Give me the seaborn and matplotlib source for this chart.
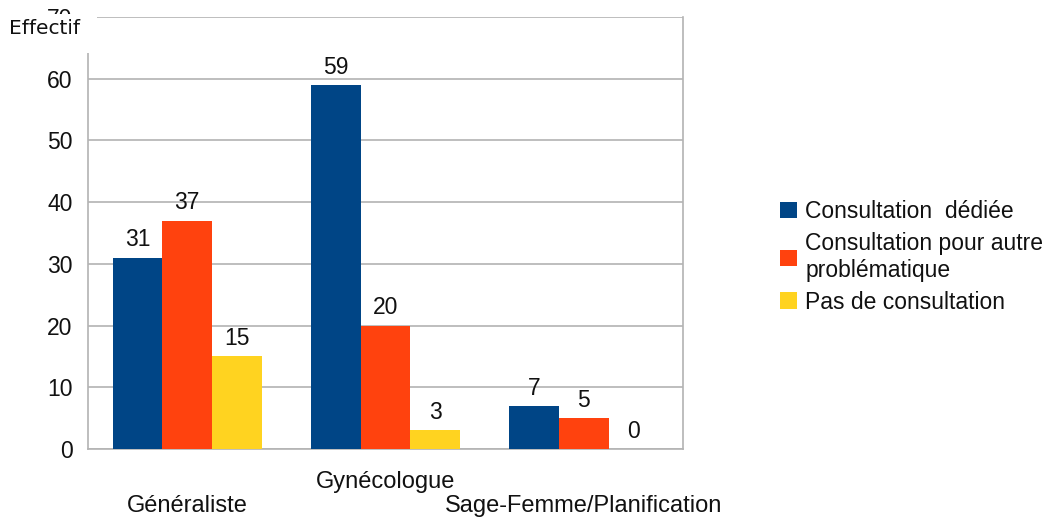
import pandas as pd
import numpy as np
import matplotlib.pyplot as plt
import matplotlib.transforms as mtransforms
from matplotlib.patches import Rectangle
import seaborn as sns

specialites = ["Généraliste", "Gynécologue", "Sage-Femme/Planification"]
consultations = ["Consultation  dédiée", "Consultation pour autre\nproblématique", "Pas de consultation"]
dediee = [31, 59, 7]
autre = [37, 20, 5]
aucune = [15, 3, 0]
couleurs = ["#004586", "#ff420e", "#ffd320"]

sns.set_theme(style="white")
plt.rcParams["font.family"] = ["Liberation Sans", "DejaVu Sans"]

df = pd.DataFrame({
    "Spécialité": specialites * 3,
    "Consultation": np.repeat(consultations, 3),
    "Effectif": dediee + autre + aucune,
})

fig = plt.figure(figsize=(10.55, 5.19), dpi=100)
ax = fig.add_axes([0.0834, 0.1349, 0.5640, 0.8323])

sns.barplot(data=df, x="Spécialité", y="Effectif", hue="Consultation",
            hue_order=consultations, order=specialites, palette=couleurs,
            saturation=1, width=0.75, gap=0, linewidth=0, ax=ax, zorder=3)

for cont in ax.containers:
    ax.bar_label(cont, fmt="%d", padding=4.5, fontsize=16.5, color="#111111")

ax.set_ylim(0, 70)
ax.set_xlim(-0.5, 2.5)
ax.set_yticks(range(0, 71, 10))
ax.yaxis.grid(True, color="#b3b3b3", linewidth=1.2, zorder=0)
ax.tick_params(axis="y", length=7, color="#b3b3b3", width=1.2, labelsize=16.5, pad=4,
               labelcolor="#111111")
ax.tick_params(axis="x", which="major", length=0, labelsize=17, pad=16,
               labelcolor="#111111")
ax.set_xticks([-0.5, 0.5, 1.5, 2.5], minor=True)
ax.tick_params(axis="x", which="minor", length=10, color="#b3b3b3", width=1.2)
ax.set_xticks(range(3))
ax.set_xticklabels(specialites)
# étiquettes en quinconce
decalage = mtransforms.ScaledTranslation(0, -0.24, fig.dpi_scale_trans)
for i, lab in enumerate(ax.get_xticklabels()):
    if i % 2 == 0:
        lab.set_transform(lab.get_transform() + decalage)
for sp in ["left", "right", "bottom"]:
    ax.spines[sp].set_color("#b3b3b3")
    ax.spines[sp].set_linewidth(1.2)
ax.spines["top"].set_visible(False)
ax.set_xlabel("")
ax.set_ylabel("")

handles, labels = ax.get_legend_handles_labels()
ax.legend(handles, labels, loc="center left", bbox_to_anchor=(0.72, 0.505),
          bbox_transform=fig.transFigure, frameon=False, fontsize=16.5,
          handlelength=0.75, handleheight=0.75, handletextpad=0.35, labelspacing=0.4,
          labelcolor="#111111")

# cadre blanc du titre d'axe qui masque en partie le « 70 »
fig.add_artist(Rectangle((0, 1 - 53 / 519), 97 / 1055, 39 / 519,
                         transform=fig.transFigure, facecolor="white",
                         edgecolor="none", zorder=9))
fig.text(0.009, 0.945, "Effectif", fontsize=14.5, family="DejaVu Sans", va="center",
         ha="left", color="#111111", zorder=10)

fig.savefig("out.png", dpi=100)
